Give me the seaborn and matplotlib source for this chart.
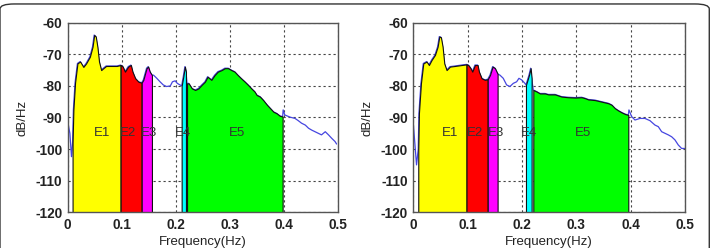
"""
Two HRV power spectra with frequency bands E1-E5 shaded
"""
import numpy as np
import matplotlib
matplotlib.use('Agg')
import matplotlib.pyplot as plt
import seaborn as sns
from matplotlib.patches import FancyBboxPatch

# Left spectrum (Hz, dB/Hz)
freq_left = [0.000, 0.004, 0.007, 0.009, 0.0105, 0.0136, 0.018, 0.023, 0.029, 0.034,
             0.041, 0.046, 0.049, 0.052, 0.055, 0.058, 0.062, 0.066, 0.071, 0.078,
             0.091, 0.098, 0.102, 0.106, 0.112, 0.117, 0.120, 0.125, 0.131, 0.137,
             0.140, 0.146, 0.149, 0.152, 0.156, 0.159, 0.165, 0.171, 0.177, 0.183,
             0.190, 0.194, 0.199, 0.203, 0.208, 0.211, 0.214, 0.217, 0.219, 0.221,
             0.224, 0.230, 0.236, 0.242, 0.248, 0.254, 0.259, 0.266, 0.272, 0.278,
             0.285, 0.291, 0.297, 0.303, 0.309, 0.315, 0.321, 0.328, 0.334, 0.340,
             0.346, 0.350, 0.356, 0.362, 0.369, 0.375, 0.381, 0.387, 0.393, 0.398,
             0.399, 0.402, 0.412, 0.421, 0.427, 0.433, 0.440, 0.446, 0.452, 0.458,
             0.464, 0.470, 0.477, 0.483, 0.489, 0.495, 0.498]
db_left = [-91.3, -95.0, -102.4, -98.0, -87.6, -79.0, -72.9, -72.3, -74.0, -72.9,
           -70.8, -67.6, -63.9, -64.4, -67.6, -72.3, -75.0, -74.4, -73.7, -73.7,
           -73.7, -73.4, -73.9, -75.5, -73.9, -73.4, -75.5, -77.6, -78.7, -79.0,
           -78.1, -74.4, -73.9, -75.5, -76.6, -76.6, -77.6, -78.7, -79.7, -80.2,
           -80.0, -78.7, -78.4, -79.2, -79.7, -80.0, -77.1, -73.9, -75.5, -79.2,
           -79.2, -80.8, -81.3, -80.8, -79.7, -78.7, -77.1, -78.1, -76.6, -75.5,
           -75.0, -74.4, -74.4, -75.0, -75.5, -76.6, -77.6, -78.7, -79.7, -80.8,
           -81.8, -82.9, -83.4, -84.5, -86.0, -87.1, -88.2, -88.7, -89.5, -89.7,
           -87.6, -89.2, -89.9, -90.3, -91.0, -91.8, -92.4, -93.4, -94.0, -94.5,
           -95.0, -95.5, -94.5, -95.5, -96.6, -97.6, -98.4]

# Right spectrum
freq_right = [0.000, 0.006, 0.0092, 0.0104, 0.0141, 0.0184, 0.0245, 0.0288, 0.0337, 0.0399,
              0.0448, 0.0479, 0.0509, 0.054, 0.0571, 0.0613, 0.0675, 0.0767, 0.089, 0.098,
              0.1012, 0.1055, 0.1086, 0.1135, 0.1184, 0.1209, 0.1258, 0.1319, 0.137, 0.1411,
              0.146, 0.1503, 0.1552, 0.1595, 0.1656, 0.1718, 0.1779, 0.184, 0.1902, 0.1945,
              0.1994, 0.2055, 0.2074, 0.2129, 0.216, 0.2178, 0.2209, 0.227, 0.2331, 0.2423,
              0.2485, 0.2607, 0.273, 0.2853, 0.2975, 0.3098, 0.316, 0.3221, 0.3344, 0.3466,
              0.3589, 0.365, 0.3712, 0.3773, 0.3834, 0.3896, 0.3957, 0.3969, 0.4018, 0.408,
              0.4172, 0.4264, 0.4356, 0.4448, 0.4509, 0.4571, 0.4632, 0.4693, 0.4755, 0.4816,
              0.4877, 0.4939, 0.500]
db_right = [-91.8, -105.0, -100.0, -88.7, -79.2, -72.9, -72.3, -73.4, -71.8, -70.2,
            -67.6, -64.4, -64.6, -67.6, -72.9, -75.0, -73.9, -73.7, -73.4, -73.2,
            -73.4, -74.4, -75.5, -73.4, -73.4, -75.5, -77.6, -78.1, -77.9, -76.6,
            -73.9, -74.4, -76.2, -76.6, -77.6, -79.7, -80.2, -79.2, -78.7, -77.6,
            -78.1, -79.2, -79.7, -76.6, -74.4, -77.6, -81.3, -81.8, -82.4, -82.4,
            -82.7, -82.7, -83.4, -83.6, -83.7, -83.6, -83.9, -84.3, -84.5, -85.0,
            -85.5, -86.0, -87.1, -87.8, -88.4, -88.9, -89.2, -87.6, -89.7, -90.8,
            -90.3, -90.3, -91.0, -92.4, -92.9, -94.5, -95.0, -95.5, -96.1, -97.1,
            -98.7, -99.8, -99.8]

band_names = ['E1', 'E2', 'E3', 'E4', 'E5']
band_colors = ['#ffff00', '#ff0000', '#ff00ff', '#00ffff', '#00ff00']
bands_left = [(0.009, 0.098), (0.098, 0.137), (0.137, 0.156), (0.211, 0.2195), (0.2205, 0.3985)]
bands_right = [(0.0092, 0.098), (0.098, 0.137), (0.137, 0.1552), (0.2074, 0.2178), (0.2209, 0.3957)]
label_x_left = [0.063, 0.112, 0.151, 0.214, 0.313]
label_x_right = [0.0675, 0.1135, 0.152, 0.2135, 0.3117]
label_y = -95

sns.set_style('white')
plt.rcParams['font.family'] = ['Liberation Sans', 'DejaVu Sans']
plt.rcParams['axes.unicode_minus'] = False

fig = plt.figure(figsize=(7.15, 2.48), dpi=100)
ax_l = fig.add_axes([0.0947, 0.144, 0.3776, 0.7645])
ax_r = fig.add_axes([0.578, 0.144, 0.380, 0.7645])

panels = [(ax_l, freq_left, db_left, bands_left, label_x_left),
          (ax_r, freq_right, db_right, bands_right, label_x_right)]

for ax, f, db, bands, lab_x in panels:
    f = np.array(f)
    db = np.array(db)
    sns.lineplot(x=f, y=db, ax=ax, color='#4646e0', linewidth=0.9, sort=False,
                 estimator=None)
    for (lo, hi), col in zip(bands, band_colors):
        mask = (f >= lo) & (f <= hi)
        ax.fill_between(f[mask], -120, db[mask], facecolor=col, edgecolor='#111111',
                        linewidth=0.8, zorder=2)
    for name, lx in zip(band_names, lab_x):
        ax.text(lx, label_y, name, ha='center', va='center', fontsize=9.5,
                color='#333333', zorder=4)
    ax.set_xlim(0, 0.5)
    ax.set_ylim(-120, -60)
    ax.set_xticks([0, 0.1, 0.2, 0.3, 0.4, 0.5])
    ax.set_xticklabels(['0', '0.1', '0.2', '0.3', '0.4', '0.5'])
    ax.set_yticks(range(-120, -59, 10))
    ax.grid(True, color='#444444', linestyle=(0, (2, 2.5)), linewidth=0.8)
    for g in ax.get_xgridlines() + ax.get_ygridlines():
        g.set_zorder(3)
    for s in ax.spines.values():
        s.set_color('#555555')
        s.set_linewidth(1.0)
        s.set_zorder(5)
    ax.tick_params(direction='in', length=0, labelsize=9.8, pad=4)
    for t in ax.get_xticklabels() + ax.get_yticklabels():
        t.set_fontweight('bold')
        t.set_color('#222222')
    ax.set_xlabel('Frequency(Hz)', fontsize=9.5, color='#222222', labelpad=3)
    ax.set_ylabel('dB/Hz', fontsize=9.5, color='#222222', labelpad=5)

# rounded frame around the figure
frame = FancyBboxPatch((0.0, -0.2), 0.992, 1.184, transform=fig.transFigure,
                       boxstyle='round,pad=0,rounding_size=0.02', facecolor='none',
                       edgecolor='#333333', linewidth=1.0, clip_on=False)
fig.patches.append(frame)

plt.savefig('out.png', dpi=100)
